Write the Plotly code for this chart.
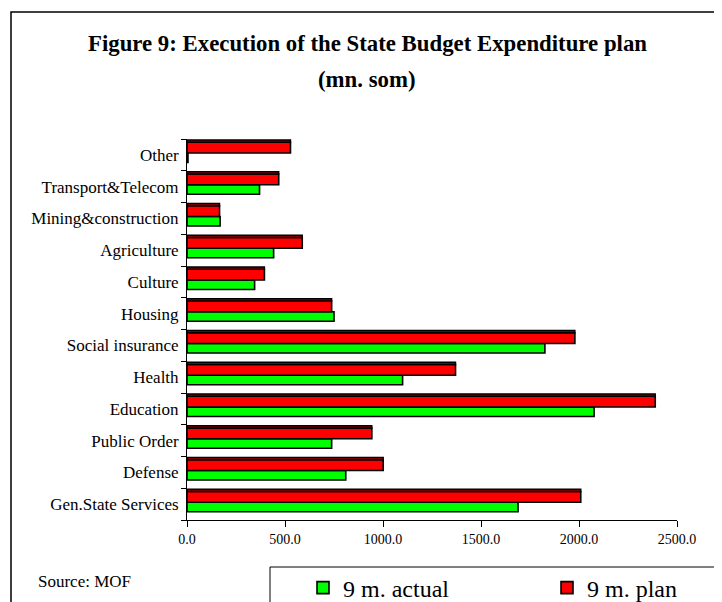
import plotly.graph_objects as go

categories = ["Gen.State Services", "Defense", "Public Order", "Education", "Health",
              "Social insurance", "Housing", "Culture", "Agriculture",
              "Mining&construction", "Transport&Telecom", "Other"]
actual_9m = [1689, 810, 738, 2077, 1100, 1826, 750, 345, 442, 169, 370, 5]
plan_9m = [2009, 1001, 943, 2389, 1370, 1979, 738, 395, 588, 166, 468, 528]
x_ticks = [0, 500, 1000, 1500, 2000, 2500]

FONT = "Liberation Serif"
OFF = 8  # page body margin
W, H = 722 - OFF, 602 - OFF
L, T = 187 - OFF, 139 - OFF
R, B = W - (677 - OFF), H - (520 - OFF)
PW, PH = W - L - R, H - T - B


def px(x):
    return (x - OFF - L) / PW


def py(y):
    return (H - B - (y - OFF)) / PH


fig = go.Figure()
fig.add_trace(go.Bar(y=categories, x=actual_9m, orientation="h", name="9 m. actual",
                     legend="legend",
                     marker=dict(color="#00FF00", line=dict(color="black", width=1.6)),
                     offset=-0.24, width=0.30))
fig.add_trace(go.Bar(y=categories, x=plan_9m, orientation="h", name="9 m. plan",
                     legend="legend2",
                     marker=dict(color="#FF0000", line=dict(color="black", width=1.6)),
                     offset=0.06, width=0.34))
fig.add_trace(go.Bar(y=categories, x=plan_9m, orientation="h", name="9 m. plan (top)",
                     showlegend=False,
                     marker=dict(color="#A00000", line=dict(color="black", width=1.4)),
                     offset=0.40, width=0.07))

legend_common = dict(orientation="h", yanchor="middle", y=py(588),
                     font=dict(family=FONT, size=24, color="black"),
                     itemwidth=30, bgcolor="rgba(0,0,0,0)", borderwidth=0)

fig.update_layout(
    width=W, height=H,
    margin=dict(l=L, r=R, t=T, b=B, pad=0, autoexpand=False),
    paper_bgcolor="white", plot_bgcolor="white",
    barmode="overlay",
    showlegend=True,
    font=dict(family=FONT, color="black"),
    xaxis=dict(range=[0, 2500], tickvals=x_ticks, tickformat=".1f",
               ticks="outside", ticklen=6, tickcolor="black", showline=True,
               linecolor="black", linewidth=1, showgrid=False, zeroline=False,
               tickfont=dict(family=FONT, size=14, color="black"), fixedrange=True),
    yaxis=dict(type="category", categoryorder="array", categoryarray=categories,
               range=[-0.5, len(categories) - 0.5],
               ticks="outside", tickson="boundaries", ticklen=5, tickcolor="black",
               ticklabelstandoff=4,
               showline=True, linecolor="black", linewidth=1, showgrid=False,
               tickfont=dict(family=FONT, size=17, color="black"), fixedrange=True),
    legend=dict(x=px(303), xanchor="left", **legend_common),
    legend2=dict(x=px(547), xanchor="left", **legend_common),
    shapes=[
        dict(type="rect", xref="paper", yref="paper", x0=px(11), x1=px(735),
             y0=py(615), y1=py(12), line=dict(color="black", width=1.5),
             fillcolor="rgba(0,0,0,0)", layer="below"),
        dict(type="rect", xref="paper", yref="paper", x0=px(270), x1=px(719),
             y0=py(615), y1=py(567), line=dict(color="black", width=1),
             fillcolor="rgba(0,0,0,0)", layer="below"),
    ],
    annotations=[
        dict(text="<b>Figure 9: Execution of the State Budget Expenditure plan</b>",
             xref="paper", yref="paper", x=px(367), y=py(43), xanchor="center",
             yanchor="middle", showarrow=False,
             font=dict(family=FONT, size=22.8, color="black")),
        dict(text="<b>(mn. som)</b>", xref="paper", yref="paper", x=px(367), y=py(80),
             xanchor="center", yanchor="middle", showarrow=False,
             font=dict(family=FONT, size=22.8, color="black")),
        dict(text="Source: MOF", xref="paper", yref="paper", x=px(36), y=py(581),
             xanchor="left", yanchor="middle", showarrow=False,
             font=dict(family=FONT, size=17, color="black")),
    ],
)

fig.write_html("out.html")
